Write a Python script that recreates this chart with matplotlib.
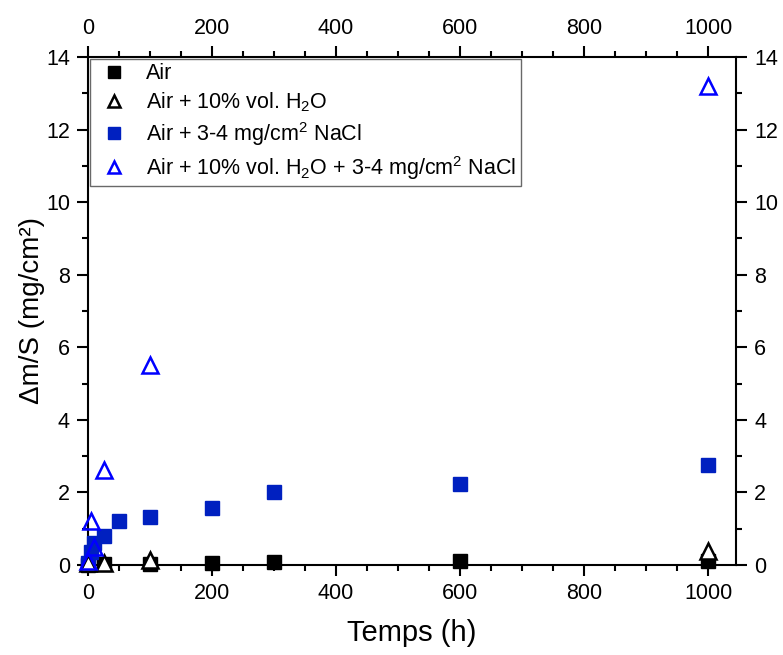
import numpy as np
import matplotlib
matplotlib.use("Agg")
import matplotlib.pyplot as plt
from matplotlib.ticker import MultipleLocator

plt.rcParams['font.family'] = ['Liberation Sans', 'DejaVu Sans']
plt.rcParams['mathtext.fontset'] = 'custom'
plt.rcParams['mathtext.rm'] = 'Liberation Sans'
plt.rcParams['mathtext.it'] = 'Liberation Sans:italic'

# Air
t_air = [0, 25, 100, 200, 300, 600, 1000]
m_air = [0.0, 0.03, 0.04, 0.06, 0.07, 0.12, 0.1]

# Air + 10% vol. H2O
t_h2o = [0, 25, 100, 1000]
m_h2o = [0.05, 0.06, 0.15, 0.38]

# Air + NaCl
t_nacl = [0, 5, 10, 25, 50, 100, 200, 300, 600, 1000]
m_nacl = [0.05, 0.35, 0.6, 0.8, 1.2, 1.32, 1.58, 2.0, 2.22, 2.75]

# Air + H2O + NaCl
t_mix = [0, 5, 10, 25, 100, 1000]
m_mix = [0.1, 1.2, 0.5, 2.62, 5.5, 13.2]

dark_blue = '#0020C0'

fig = plt.figure(figsize=(7.83, 6.55), dpi=100)
ax = fig.add_axes([0.1124, 0.1374, 0.8276, 0.7756])

ax.plot(t_air, m_air, 's', color='black', ms=9.5, ls='none', clip_on=False, zorder=3,
        label='Air')
ax.plot(t_h2o, m_h2o, '^', mfc='white', mec='black', mew=1.8, ms=11, ls='none',
        clip_on=False, zorder=4, label='Air + 10% vol. H$_2$O')
ax.plot(t_nacl, m_nacl, 's', color=dark_blue, ms=9.5, ls='none', clip_on=False, zorder=3,
        label='Air + 3-4 mg/cm$^2$ NaCl')
ax.plot(t_mix, m_mix, '^', mfc='none', mec='#0000FF', mew=1.8, ms=11, ls='none',
        clip_on=False, zorder=4, label='Air + 10% vol. H$_2$O + 3-4 mg/cm$^2$ NaCl')

ax.set_xlim(0, 1045)
ax.set_ylim(0, 14)
ax.xaxis.set_major_locator(MultipleLocator(200))
ax.xaxis.set_minor_locator(MultipleLocator(50))
ax.yaxis.set_major_locator(MultipleLocator(2))
ax.yaxis.set_minor_locator(MultipleLocator(1))

for s in ax.spines.values():
    s.set_linewidth(1.5)
ax.tick_params(which='both', direction='out', top=True, right=True,
               labeltop=True, labelright=True, width=1.5, labelsize=15.5, colors='black')
ax.tick_params(which='major', length=8, pad=5)
ax.tick_params(which='minor', length=4.5)

ax.set_xlabel('Temps (h)', fontsize=21, labelpad=11)
ax.set_ylabel('Δm/S (mg/cm²)', fontsize=20, labelpad=1)

leg = ax.legend(loc='upper left', fontsize=15.5, frameon=True, fancybox=False,
                edgecolor='#444444', borderaxespad=0.1, handletextpad=0.6,
                labelspacing=0.28, borderpad=0.2, handlelength=1.8, markerscale=0.85)
leg.get_frame().set_linewidth(1.0)

fig.savefig('out.png', dpi=100)
